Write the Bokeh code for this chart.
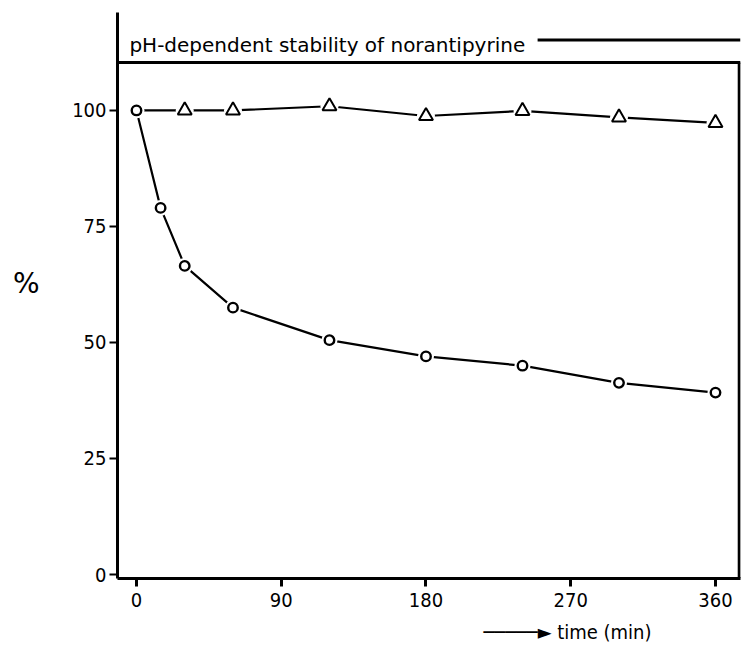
from bokeh.plotting import figure
from bokeh.models import Range1d, FixedTicker, Span, Label, LinearAxis
from bokeh.embed import file_html
from bokeh.resources import INLINE

# ---- data ----
time_circle = [0, 15, 30, 60, 120, 180, 240, 300, 360]
pct_circle = [100, 79, 66.5, 57.5, 50.5, 47, 45, 41.3, 39.2]
time_tri = [0, 30, 60, 120, 180, 240, 300, 360]
pct_tri = [100, 100, 100, 100.9, 98.8, 99.9, 98.5, 97.3]
x_ticks = [0, 90, 180, 270, 360]
y_ticks = [0, 25, 50, 75, 100]
title_text = "pH-dependent stability of norantipyrine"
x_label = "\u2500\u2500\u2500\u2500\u2500\u25ba time (min)"
y_label = "%"

FONT = "DejaVu Sans Condensed"

x0, x1 = -11.8, 375.55
y0, y1 = -0.86, 121.1
frame_top_val = 110.3

p = figure(width=741, height=648, x_range=Range1d(x0, x1), y_range=Range1d(y0, y1),
           output_backend="svg", toolbar_location=None,
           min_border_left=117, min_border_right=1, min_border_top=12, min_border_bottom=70)
p.outline_line_color = None
p.grid.visible = False
p.background_fill_color = "white"
p.border_fill_color = "white"

for ax, ticks in ((p.xaxis, x_ticks), (p.yaxis, y_ticks)):
    ax.ticker = FixedTicker(ticks=ticks)
    ax.axis_line_width = 3
    ax.axis_line_color = "black"
    ax.major_tick_in = 0
    ax.major_tick_out = 8
    ax.minor_tick_line_color = None
    ax.major_label_text_font = FONT
    ax.major_label_text_font_size = "20px"
    ax.major_label_text_color = "black"
p.xaxis.major_tick_line_width = 3
p.yaxis.major_tick_line_width = 2
p.xaxis.major_label_standoff = 6
p.yaxis.major_label_standoff = 3

# extra axis carrying the x label (with its arrow), placed where the reference has it
x_label_pos = 268
xlab_axis = LinearAxis(ticker=FixedTicker(ticks=[x_label_pos]),
                       major_label_overrides={x_label_pos: x_label},
                       axis_line_color=None, major_tick_line_color=None,
                       minor_tick_line_color=None, major_tick_out=0, major_tick_in=0,
                       major_label_standoff=10, major_label_text_font=FONT,
                       major_label_text_font_size="20px", major_label_text_color="black")
p.add_layout(xlab_axis, "below")

# extra axis carrying the y label "%"
y_label_pos = 62.7
ylab_axis = LinearAxis(ticker=FixedTicker(ticks=[y_label_pos]),
                       major_label_overrides={y_label_pos: y_label},
                       axis_line_color=None, major_tick_line_color=None,
                       minor_tick_line_color=None, major_tick_out=0, major_tick_in=0,
                       major_label_standoff=30, major_label_text_font="DejaVu Sans",
                       major_label_text_font_size="28px", major_label_text_color="black")
p.add_layout(ylab_axis, "left")

# frame pieces: top line, right spine
p.add_layout(Span(location=frame_top_val, dimension="width", line_color="black", line_width=3))
p.segment(x0=[x1 - 0.8], y0=[y0], x1=[x1 - 0.8], y1=[frame_top_val], line_color="black", line_width=3)

# title and its rule
title_y = 114.0
p.add_layout(Label(x=-4.4, y=title_y, text=title_text, text_font="DejaVu Sans", text_font_size="20px",
                   text_baseline="alphabetic", text_align="left", text_color="black"))
p.segment(x0=[249.4], y0=[115.2], x1=[x1], y1=[115.2], line_color="black", line_width=3)

# data lines
p.line(time_tri, pct_tri, line_color="black", line_width=2.2)
p.line(time_circle, pct_circle, line_color="black", line_width=2.2)
# white gaps around markers
p.scatter(time_tri[1:], pct_tri[1:], marker="circle", size=18, fill_color="white", line_color=None)
p.scatter(time_circle, pct_circle, marker="circle", size=16, fill_color="white", line_color=None)
# markers
p.scatter(time_tri[1:], pct_tri[1:], marker="triangle", size=14, fill_color="white",
          line_color="black", line_width=2)
p.scatter(time_circle, pct_circle, marker="circle", size=9.5, fill_color="white",
          line_color="black", line_width=2.4)

open("out.html", "w").write(file_html(p, INLINE))
